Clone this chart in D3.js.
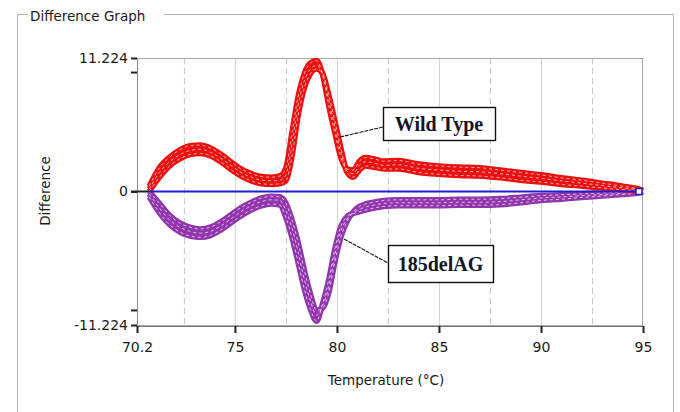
<!DOCTYPE html>
<html><head><meta charset="utf-8">
<script src="https://cdn.jsdelivr.net/npm/d3@7"></script>
<style>body{margin:0;background:#fff}svg{display:block}</style>
</head><body>
<svg id="c" width="680" height="412"></svg>
<script>
const temps = [70.8,71.3,71.8,72.3,72.8,73.3,73.8,74.3,74.8,75.3,75.8,76.3,76.8,77.2,77.5,77.8,78.1,78.4,78.7,79.0,79.3,79.6,79.9,80.2,80.5,80.8,81.1,81.4,81.8,82.3,83.0,84.0,85.0,86.0,87.0,88.0,89.0,90.0,91.0,92.0,93.0,94.0,94.7,95.0];
const wildType1 = [0.0,1.2,2.15,2.75,3.1,3.2,3.0,2.5,1.85,1.3,0.9,0.65,0.6,0.65,0.9,3.0,6.4,8.7,9.9,10.3,9.9,8.1,5.9,3.6,1.6,1.2,1.8,2.15,2.05,1.9,1.9,1.6,1.45,1.35,1.3,1.15,0.95,0.8,0.6,0.45,0.3,0.15,0.05,0.0];
const wildType2 = [0.2,1.6,2.5,3.1,3.45,3.55,3.3,2.8,2.2,1.6,1.2,0.95,0.9,0.95,1.4,4.0,7.3,9.3,10.3,10.6,9.9,7.7,5.4,3.2,1.7,1.5,2.2,2.5,2.4,2.2,2.25,1.95,1.8,1.7,1.65,1.5,1.3,1.1,0.9,0.7,0.5,0.3,0.15,0.05];
const wildType3 = [0.45,2.0,2.9,3.5,3.85,3.9,3.65,3.15,2.5,1.9,1.5,1.25,1.2,1.3,2.0,5.0,8.0,9.9,10.8,11.0,9.8,7.2,4.9,2.8,1.9,1.8,2.55,2.85,2.75,2.55,2.6,2.3,2.15,2.05,2.0,1.8,1.6,1.4,1.15,0.95,0.7,0.45,0.25,0.1];
const mutant1 = [0.0,-1.0,-2.0,-2.65,-3.0,-3.15,-3.0,-2.55,-1.95,-1.35,-0.9,-0.55,-0.4,-0.45,-1.0,-2.4,-4.3,-6.6,-8.6,-10.0,-9.8,-8.5,-5.9,-3.8,-2.5,-1.7,-1.25,-1.05,-0.9,-0.75,-0.7,-0.7,-0.7,-0.65,-0.65,-0.6,-0.48,-0.35,-0.27,-0.2,-0.12,-0.06,-0.02,0.0];
const mutant2 = [-0.2,-1.4,-2.4,-3.0,-3.35,-3.5,-3.35,-2.9,-2.3,-1.7,-1.2,-0.85,-0.7,-0.75,-1.6,-3.1,-5.1,-7.4,-9.2,-10.4,-9.6,-8.0,-5.3,-3.3,-2.3,-1.8,-1.5,-1.3,-1.15,-1.0,-0.95,-0.95,-0.95,-0.9,-0.9,-0.85,-0.7,-0.55,-0.45,-0.35,-0.25,-0.15,-0.08,0.0];
const mutant3 = [-0.45,-1.8,-2.8,-3.4,-3.75,-3.85,-3.7,-3.25,-2.65,-2.05,-1.55,-1.2,-1.05,-1.15,-2.2,-3.9,-6.0,-8.2,-9.9,-10.9,-9.4,-7.4,-4.8,-2.9,-2.1,-1.85,-1.7,-1.55,-1.4,-1.25,-1.2,-1.2,-1.2,-1.15,-1.15,-1.1,-0.95,-0.75,-0.65,-0.5,-0.38,-0.25,-0.14,-0.05];
const xTicks = [70.2,75,80,85,90,95];
const xDashedGrid = [72.5,77.5,82.5,87.5,92.5];
const yTicks = [-11.224,0,11.224];
const yTickLabels = ["-11.224","0","11.224"];
const yMinorTicks = [-10,10];
const seriesNames = ["Wild Type","185delAG"];

const FONT = "DejaVu Sans, sans-serif";
const svg = d3.select("#c");
const x = d3.scaleLinear().domain([70.2,95]).range([137,643]);
const y = d3.scaleLinear().domain([-11.224,11.224]).range([325,58]);

// group box
svg.append("path").attr("d","M28,14.5H17.5V412M164,14.5H673.5V412").attr("fill","none").attr("stroke","#b4b4b4");
svg.append("text").attr("x",30).attr("y",21).attr("font-family",FONT).attr("font-size",13.5).attr("fill","#1a1a1a").text("Difference Graph");

// grid
const g = svg.append("g");
g.selectAll(".gs").data(xTicks.slice(1,-1)).join("line").attr("x1",d=>x(d)+0.5).attr("x2",d=>x(d)+0.5).attr("y1",58).attr("y2",325).attr("stroke","#d4d4d4");
g.selectAll(".gd").data(xDashedGrid).join("line").attr("x1",d=>x(d)+0.5).attr("x2",d=>x(d)+0.5).attr("y1",58).attr("y2",325).attr("stroke","#c6c6c6").attr("stroke-dasharray","6,4");
// frame
svg.append("rect").attr("x",137.5).attr("y",58.5).attr("width",505).attr("height",267).attr("fill","none").attr("stroke","#a8a8a8");

// axes
const xAxis = svg.append("g").attr("transform","translate(0,326)").call(d3.axisBottom(x).tickValues(xTicks).tickFormat(d=>String(d)).tickSize(7).tickPadding(9));
xAxis.select(".domain").attr("stroke","#777");
xAxis.selectAll(".tick line").attr("stroke","#222").attr("stroke-width",2);
xAxis.selectAll("text").attr("font-family",FONT).attr("font-size",14).attr("fill","#1a1a1a");
const yAxis = svg.append("g").attr("transform","translate(137,0)").call(d3.axisLeft(y).tickValues(yTicks).tickFormat((d,i)=>yTickLabels[i]).tickSize(6).tickPadding(3));
yAxis.select(".domain").attr("stroke","#888");
yAxis.selectAll(".tick line").attr("stroke","#222").attr("stroke-width",2);
yAxis.selectAll("text").attr("font-family",FONT).attr("font-size",14).attr("fill","#1a1a1a");
svg.append("g").selectAll("line").data(yMinorTicks).join("line").attr("x1",131).attr("x2",137).attr("y1",d=>y(d)).attr("y2",d=>y(d)).attr("stroke","#222").attr("stroke-width",2);

svg.append("text").attr("x",386).attr("y",385).attr("text-anchor","middle").attr("font-family",FONT).attr("font-size",13.5).attr("fill","#1a1a1a").text("Temperature (°C)");
svg.append("text").attr("transform","translate(50,191) rotate(-90)").attr("text-anchor","middle").attr("font-family",FONT).attr("font-size",13.5).attr("fill","#1a1a1a").text("Difference");

// curves
const line = d3.line().x((d,i)=>x(temps[i])).y(d=>y(d)).curve(d3.curveMonotoneX);
const groups = [
  {data:[mutant1,mutant2,mutant3], color:"#9136ad"},
  {data:[wildType1,wildType2,wildType3], color:"#ec1010"}
];
groups.forEach(gr=>{
  const cg = svg.append("g");
  cg.selectAll(".thick").data(gr.data).join("path").attr("d",line).attr("fill","none").attr("stroke",gr.color).attr("stroke-width",5.6).attr("stroke-linejoin","round");
  cg.selectAll(".thin").data(gr.data).join("path").attr("d",line).attr("fill","none").attr("stroke","#fff").attr("stroke-opacity",0.75).attr("stroke-width",0.9).attr("stroke-dasharray","3,3");
});

// zero line
svg.append("line").attr("x1",x(70.8)).attr("x2",x(95)-2).attr("y1",y(0)).attr("y2",y(0)).attr("stroke","#1e1ed2").attr("stroke-width",2.2);
svg.append("line").attr("x1",131).attr("x2",x(70.8)).attr("y1",y(0)).attr("y2",y(0)).attr("stroke","#222").attr("stroke-width",2);
svg.append("rect").attr("x",x(95)-7).attr("y",y(0)-3).attr("width",6).attr("height",6).attr("fill","#fff").attr("stroke","#1e1ed2").attr("stroke-width",1.5);

// annotations
function label(text, bx, by, bw, bh, lx1, ly1, lx2, ly2){
  svg.append("line").attr("x1",lx1).attr("y1",ly1).attr("x2",lx2).attr("y2",ly2).attr("stroke","#111").attr("stroke-width",1.1).attr("stroke-dasharray","4,1");
  svg.append("rect").attr("x",bx+0.5).attr("y",by+0.5).attr("width",bw).attr("height",bh).attr("fill","#fff").attr("stroke","#111").attr("stroke-width",1.4);
  svg.append("text").attr("x",bx+bw/2).attr("y",by+bh/2+7).attr("text-anchor","middle").attr("font-family","Liberation Serif, serif").attr("font-weight","bold").attr("font-size",20).attr("fill","#141428").text(text);
}
label(seriesNames[0],383,107,112,33, 340,137, 383,127);
label(seriesNames[1],388,245,105,37, 344,239, 388,263);
</script>
</body></html>
